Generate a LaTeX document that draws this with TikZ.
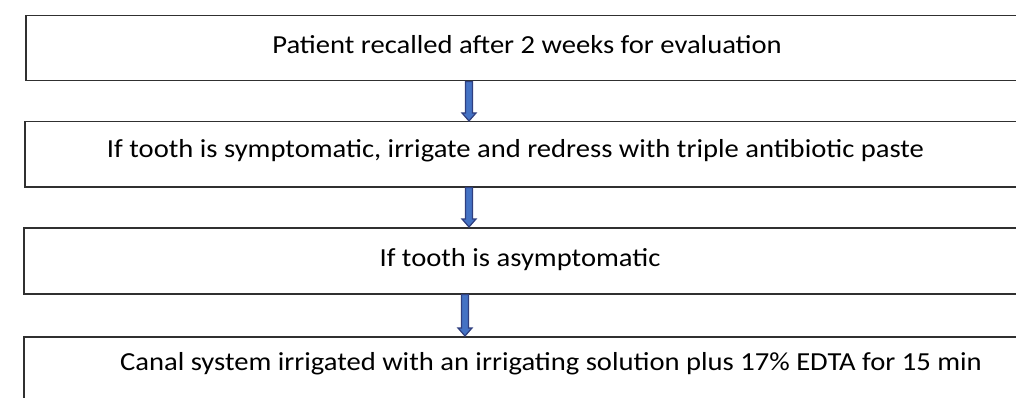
\documentclass[tikz,border=0pt]{standalone}
\usepackage{fontspec}
\setmainfont[FakeStretch=1.1]{Carlito}
\usetikzlibrary{calc}
\definecolor{arrfill}{HTML}{4472C4}
\definecolor{arrline}{HTML}{2F3F7F}
\definecolor{boxline}{HTML}{303030}
\tikzset{
  box/.style={draw=boxline, line width=1.5pt, rectangle, minimum width=1010pt, anchor=north west, inner sep=0pt},
  txt/.style={font=\fontsize{26}{30}\selectfont, inner sep=0pt, anchor=base},
  blockarrow/.style={fill=arrfill, draw=arrline, line width=1.2pt, line join=miter}
}
\newcommand{\blockdown}[3]{% x, top node, bottom node
  \draw[blockarrow] let \p1=(#2.south), \p2=(#3.north) in
    (#1-3.5pt,\y1) -- (#1+3.5pt,\y1) -- (#1+3.5pt,\y2+8pt) -- (#1+7pt,\y2+8pt)
    -- (#1,\y2) -- (#1-7pt,\y2+8pt) -- (#1-3.5pt,\y2+8pt) -- cycle;}
\begin{document}
\begin{tikzpicture}[x=1pt,y=-1pt]
\useasboundingbox (0,0) rectangle (1016,398);
\begin{scope}
\clip (0,0) rectangle (1016,398);
\node[box, minimum height=65pt] (b1) at (25,15) {};
\node[box, minimum height=65pt] (b2) at (24,121) {};
\node[box, minimum height=66pt] (b3) at (23,227) {};
\node[box, minimum height=66pt] (b4) at (23,336) {};
\end{scope}
\node[txt] (t1) at (527,54) {Patient recalled after 2 weeks for evaluation};
\node[txt] (t2) at (515.5,158) {If tooth is symptomatic, irrigate and redress with triple antibiotic paste};
\node[txt] (t3) at (520,266) {If tooth is asymptomatic};
\node[txt] (t4) at (551,370) {Canal system irrigated with an irrigating solution plus 17\% EDTA for 15 min};
\blockdown{469}{b1}{b2}
\blockdown{469}{b2}{b3}
\blockdown{465}{b3}{b4}
\end{tikzpicture}
\end{document}
